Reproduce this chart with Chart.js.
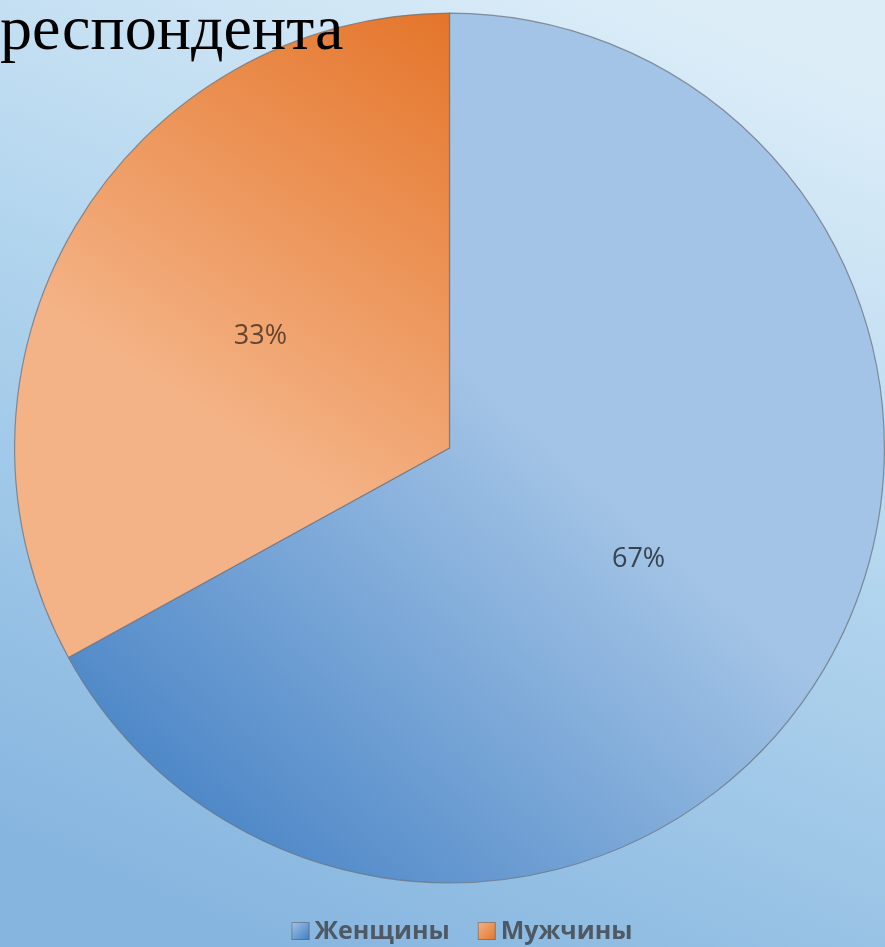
<!DOCTYPE html>
<html>
<head>
<meta charset="utf-8">
<script src="https://cdn.jsdelivr.net/npm/chart.js@4/dist/chart.umd.min.js"></script>
<style>
  html, body { margin: 0; padding: 0; overflow: hidden; background: #a9cdec; }
  #wrap { position: relative; width: 885px; height: 947px; }
</style>
</head>
<body>
<div id="wrap"><canvas id="chart" width="885" height="947"></canvas></div>
<script>
// Respondents by gender, in percent
const categories = ['Женщины', 'Мужчины'];
const shares = [67, 33];
const titleText = 'респондента';

// Slice fills: [dark end, light end] of each gradient
const sliceStops = [
  ['#3f7dc2', '#a3c4e6'],
  ['#e4752a', '#f4b386']
];

function sliceFill(ctx) {
  const chart = ctx.chart;
  const a = chart.chartArea;
  if (!a) return sliceStops[ctx.dataIndex][1];
  const c = chart.ctx;
  const w = a.right - a.left, h = a.bottom - a.top;
  let g;
  if (ctx.dataIndex === 0) {
    g = c.createLinearGradient(a.left + w * 0.12, a.top + h * 0.98, a.left + w * 0.58, a.top + h * 0.46);
  } else {
    g = c.createLinearGradient(a.left + w * 0.5, a.top, a.left + w * 0.2, a.top + h * 0.45);
  }
  g.addColorStop(0, sliceStops[ctx.dataIndex][0]);
  g.addColorStop(1, sliceStops[ctx.dataIndex][1]);
  return g;
}

const decorations = {
  id: 'decorations',
  beforeDraw(chart) {
    const c = chart.ctx;
    const W = chart.width, H = chart.height;
    const g = c.createLinearGradient(W * 0.75, 0, W * 0.3, H);
    g.addColorStop(0, '#dcedf8');
    g.addColorStop(0.45, '#b2d5ee');
    g.addColorStop(1, '#86b5df');
    c.save();
    c.fillStyle = g;
    c.fillRect(0, 0, W, H);
    c.restore();
  },
  afterDraw(chart) {
    const c = chart.ctx;
    const meta = chart.getDatasetMeta(0);
    c.save();
    // value labels at half radius
    c.font = '27px "Open Sans", "Liberation Sans", sans-serif';
    c.textAlign = 'center';
    c.textBaseline = 'middle';
    const labelColors = ['#37434f', '#66442e'];
    meta.data.forEach((arc, i) => {
      const p = arc.getProps(['x', 'y', 'startAngle', 'endAngle', 'outerRadius'], true);
      const mid = (p.startAngle + p.endAngle) / 2;
      const r = p.outerRadius * 0.505;
      c.fillStyle = labelColors[i];
      c.fillText(shares[i] + '%', p.x + Math.cos(mid) * r, p.y + Math.sin(mid) * r);
    });

    // title fragment at top-left
    c.font = '64px "Liberation Serif", "Times New Roman", serif';
    c.textAlign = 'left';
    c.textBaseline = 'alphabetic';
    c.fillStyle = '#000';
    c.fillText(titleText, 0, 49);

    // legend
    c.font = 'bold 25px "Open Sans", "Liberation Sans", sans-serif';
    c.textBaseline = 'middle';
    const y = 931;
    const box = 18, gap = 5, spacing = 28;
    const widths = categories.map(t => c.measureText(t).width);
    const total = widths.reduce((s, w) => s + box + gap + w, 0) + spacing * (categories.length - 1);
    let x = 462 - total / 2;
    categories.forEach((t, i) => {
      const bg = c.createLinearGradient(x, y - box / 2, x + box, y + box / 2);
      bg.addColorStop(0, sliceStops[i][1]);
      bg.addColorStop(1, sliceStops[i][0]);
      c.fillStyle = bg;
      c.fillRect(x, y - box / 2, box, box);
      c.strokeStyle = 'rgba(90,100,115,0.6)';
      c.lineWidth = 1;
      c.strokeRect(x + 0.5, y - box / 2 + 0.5, box - 1, box - 1);
      x += box + gap;
      c.fillStyle = '#4f5964';
      c.fillText(t, x, y + 1);
      x += widths[i] + spacing;
    });
    c.restore();
  }
};

new Chart(document.getElementById('chart'), {
  type: 'pie',
  data: {
    labels: categories,
    datasets: [{
      data: shares,
      backgroundColor: sliceFill,
      borderColor: 'rgba(105,115,128,0.75)',
      borderWidth: 1.2
    }]
  },
  options: {
    responsive: false,
    animation: false,
    events: [],
    layout: { padding: { left: 14, top: 12, right: 0, bottom: 63 } },
    plugins: {
      legend: { display: false },
      tooltip: { enabled: false },
      title: { display: false }
    }
  },
  plugins: [decorations]
});
</script>
</body>
</html>
